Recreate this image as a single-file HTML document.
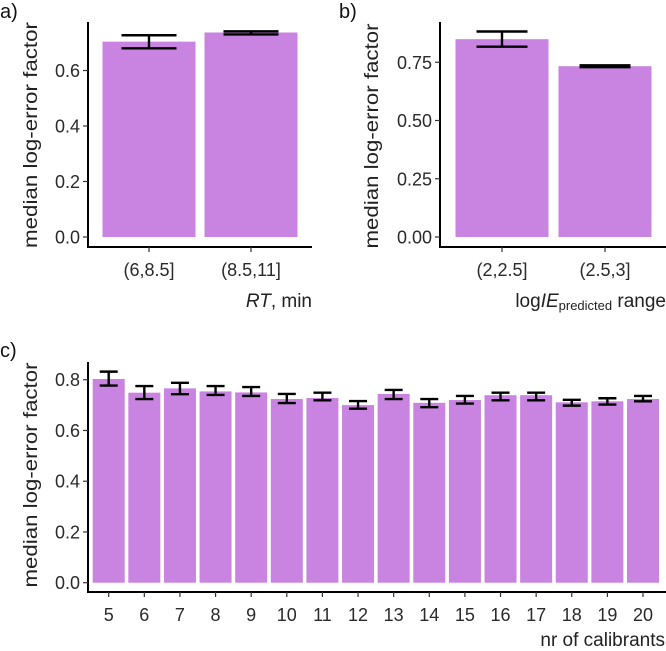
<!DOCTYPE html>
<html><head><meta charset="utf-8">
<style>
html,body{margin:0;padding:0;background:#fff;}
svg{display:block;font-family:"Liberation Sans",sans-serif;}
</style></head>
<body>
<svg id="fig" width="666" height="651" viewBox="0 0 666 651"></svg>
<script>
// Panel a data
const aCats = ["(6,8.5]","(8.5,11]"];
const aVals = [0.704, 0.737];
const aLo = [0.680, 0.730];
const aHi = [0.727, 0.741];
const aTicks = [0.0, 0.2, 0.4, 0.6];
const aTickLabels = ["0.0","0.2","0.4","0.6"];
// Panel b data
const bCats = ["(2,2.5]","(2.5,3]"];
const bVals = [0.849, 0.733];
const bLo = [0.817, 0.729];
const bHi = [0.882, 0.737];
const bTicks = [0, 0.25, 0.5, 0.75];
const bTickLabels = ["0.00","0.25","0.50","0.75"];
// Panel c data
const cCats = ["5","6","7","8","9","10","11","12","13","14","15","16","17","18","19","20"];
const cVals = [0.803,0.749,0.766,0.754,0.750,0.724,0.728,0.700,0.744,0.709,0.720,0.739,0.739,0.711,0.715,0.724];
const cLo = [0.777,0.724,0.743,0.740,0.736,0.708,0.719,0.686,0.724,0.692,0.706,0.719,0.719,0.698,0.702,0.715];
const cHi = [0.832,0.775,0.788,0.775,0.771,0.744,0.749,0.716,0.760,0.724,0.736,0.749,0.749,0.721,0.727,0.736];
const cTicks = [0, 0.2, 0.4, 0.6, 0.8];
const cTickLabels = ["0.0","0.2","0.4","0.6","0.8"];

const NS = "http://www.w3.org/2000/svg";
const svg = document.getElementById("fig");
function mk(tag, attrs, parent){
  const e = document.createElementNS(NS, tag);
  for (const k in attrs) e.setAttribute(k, attrs[k]);
  (parent||svg).appendChild(e);
  return e;
}
function panel(cfg){
  const g = mk("g", {});
  
  
  const y = v => cfg.y0 - v * cfg.yScale;
  const n = cfg.cats.length;
  const bx = i => cfg.xStart + i * cfg.step;
  for (let i = 0; i < n; i++){
    const r = mk("rect", {x: bx(i) - cfg.barW/2, y: y(cfg.vals[i]), width: cfg.barW, height: y(0) - y(cfg.vals[i]), fill: "#c983e0"}, g);
    
    
  }
  for (let i = 0; i < n; i++){
    const eg = mk("g", {stroke: "#000", "stroke-width": 2.4, fill: "none"}, g);
    
    
    const cx = bx(i), hw = cfg.capW/2;
    mk("line", {x1: cx, x2: cx, y1: y(cfg.hi[i]), y2: y(cfg.lo[i])}, eg);
    mk("line", {x1: cx-hw, x2: cx+hw, y1: y(cfg.hi[i]), y2: y(cfg.hi[i])}, eg);
    mk("line", {x1: cx-hw, x2: cx+hw, y1: y(cfg.lo[i]), y2: y(cfg.lo[i])}, eg);
  }
  const ya = mk("line", {x1: cfg.axX, x2: cfg.axX, y1: cfg.axTop, y2: cfg.axY + 1, stroke: "#000", "stroke-width": 2}, g);
  
  
  const xa = mk("line", {x1: cfg.axX - 1, x2: cfg.axRight, y1: cfg.axY, y2: cfg.axY, stroke: "#000", "stroke-width": 2}, g);
  
  
  for (let i = 0; i < cfg.ticks.length; i++){
    const ty = y(cfg.ticks[i]);
    mk("line", {x1: cfg.axX - 5, x2: cfg.axX, y1: ty, y2: ty, stroke: "#333", "stroke-width": 1.2}, g);
    const t = mk("text", {x: cfg.axX - 8, y: ty + 6.5, "text-anchor": "end", "font-size": 18, fill: "#2a2a2a"}, g);
    t.textContent = cfg.tickLabels[i];
    
    
  }
  for (let i = 0; i < n; i++){
    mk("line", {x1: bx(i), x2: bx(i), y1: cfg.axY, y2: cfg.axY + 5, stroke: "#333", "stroke-width": 1.2}, g);
    const t = mk("text", {x: bx(i), y: cfg.axY + 29, "text-anchor": "middle", "font-size": 18, fill: "#2a2a2a"}, g);
    t.textContent = cfg.cats[i];
    
    
  }
  const yt = mk("text", {x: 0, y: 0, "text-anchor": "middle", "font-size": 19.5, fill: "#222", "textLength": cfg.ytLen, "lengthAdjust": "spacingAndGlyphs",
    transform: "translate(" + cfg.ytX + "," + cfg.ytY + ") rotate(-90)"}, g);
  yt.textContent = "median log-error factor";
  
  
  const pl = mk("text", {x: cfg.labX, y: cfg.labY, "font-size": 20, fill: "#111"}, g);
  pl.textContent = cfg.label;
  
  
  return g;
}
panel({name:"panel-a", cats:aCats, vals:aVals, lo:aLo, hi:aHi, ticks:aTicks, tickLabels:aTickLabels,
  y0:237, yScale:277.5, xStart:149, step:102, barW:93, capW:55, axX:88, axY:247, axTop:22, axRight:312, ytX:37, ytY:135, ytLen:226, labX:0, labY:18, label:"a)"});
panel({name:"panel-b", cats:bCats, vals:bVals, lo:bLo, hi:bHi, ticks:bTicks, tickLabels:bTickLabels,
  y0:237, yScale:233, xStart:502, step:103, barW:93, capW:51, axX:440, axY:247, axTop:22, axRight:666, ytX:378, ytY:136, ytLen:225, labX:339, labY:18, label:"b)"});
panel({name:"panel-c", cats:cCats, vals:cVals, lo:cLo, hi:cHi, ticks:cTicks, tickLabels:cTickLabels,
  y0:582.7, yScale:253.7, xStart:108.7, step:35.62, barW:32, capW:18, axX:88, axY:592, axTop:362, axRight:666, ytX:37, ytY:475, ytLen:225, labX:0, labY:357, label:"c)"});

const t1 = mk("text", {x: 312, y: 307, "text-anchor": "end", "font-size": 19, fill: "#222"});
t1.innerHTML = '<tspan font-style="italic">RT</tspan>, min';


const t2 = mk("text", {x: 666, y: 307, "text-anchor": "end", "font-size": 19, fill: "#222"});
t2.innerHTML = 'log<tspan font-style="italic">IE</tspan><tspan font-size="13" dy="3">predicted</tspan><tspan dy="-3"> range</tspan>';


const t3 = mk("text", {x: 665, y: 646, "text-anchor": "end", "font-size": 19, fill: "#222"});
t3.textContent = "nr of calibrants";


</script>
</body></html>
